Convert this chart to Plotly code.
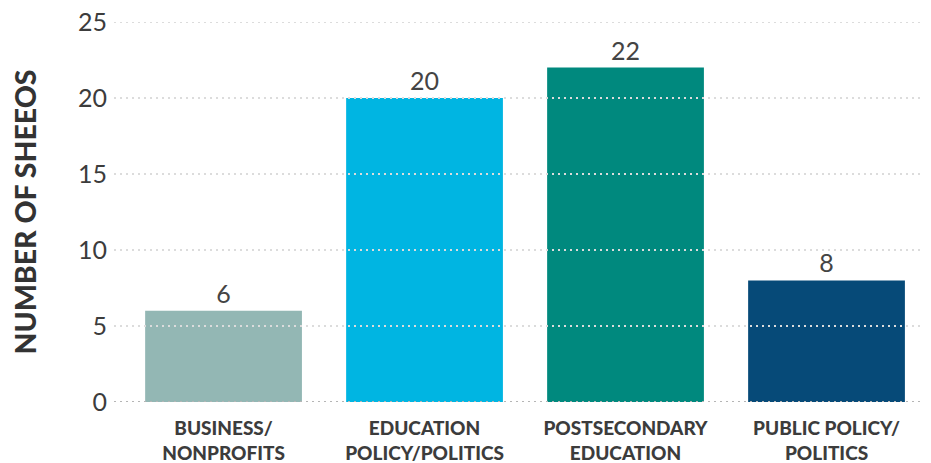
import plotly.graph_objects as go

categories = ["BUSINESS/<br>NONPROFITS", "EDUCATION<br>POLICY/POLITICS",
              "POSTSECONDARY<br>EDUCATION", "PUBLIC POLICY/<br>POLITICS"]
values = [6, 20, 22, 8]
colors = ["#93b7b4", "#00b5e2", "#00897e", "#064a78"]
y_ticks = [0, 5, 10, 15, 20, 25]

fig = go.Figure()
fig.add_trace(go.Bar(
    x=list(range(len(categories))), y=values,
    marker=dict(color=colors, line=dict(width=0)),
    text=[str(v) for v in values], textposition="outside",
    textfont=dict(family="Lato", size=25, color="#444444"),
    cliponaxis=False, width=0.78,
))

shapes = []
for t in y_ticks:
    shapes.append(dict(
        type="line", xref="paper", x0=0, x1=1, yref="y", y0=t, y1=t,
        line=dict(color="#b5b5b5" if t == 0 else "#dcdcdc", width=2, dash="2px,4px"),
        layer="above",
    ))

fig.update_layout(
    width=923, height=455,
    margin=dict(l=106, r=6, t=14, b=61, autoexpand=False),
    plot_bgcolor="white", paper_bgcolor="white",
    showlegend=False, shapes=shapes,
    xaxis=dict(
        tickvals=list(range(len(categories))), ticktext=categories,
        range=[-0.545, 3.49], showgrid=False, zeroline=False, showline=False,
        tickfont=dict(family="Lato", size=19, color="#3c3c3c", weight=900),
        ticks="", ticklabelstandoff=13, automargin=False,
    ),
    yaxis=dict(
        range=[0, 25], tickvals=y_ticks, showgrid=False, zeroline=False,
        tickfont=dict(family="Lato", size=25, color="#3c3c3c"),
        ticks="", ticklabelstandoff=6, automargin=False,
        ticklabeloverflow="allow",
        title=dict(text="NUMBER OF SHEEOS", standoff=40,
                   font=dict(family="Lato", size=28.5, color="#333333", weight=900)),
    ),
)
fig.write_html("out.html")
